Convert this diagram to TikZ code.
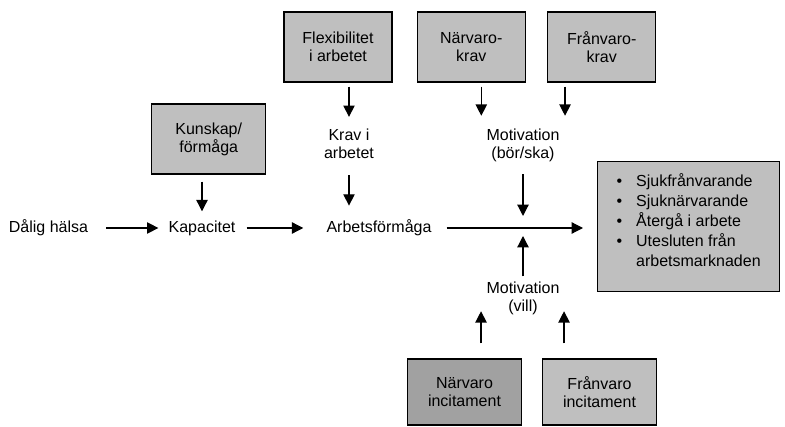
\documentclass[tikz,border=0pt]{standalone}
\usepackage{fontspec}
\setmainfont{Liberation Sans}
\usetikzlibrary{arrows.meta}

\begin{document}
\begin{tikzpicture}[x=0.75pt,y=-0.75pt,
                box/.style={draw,line width=0.9pt,fill=black!25,minimum width=81pt,minimum height=52.5pt,align=center,font=\fontsize{12}{13.5}\selectfont},
                dark box/.style={box,fill=black!37},
                word/.style={inner sep=0pt,align=center,font=\fontsize{12}{13.5}\selectfont},
                pil/.style={-{Triangle[length=8.5pt,width=8.5pt]},line width=0.9pt},
                ]
                \useasboundingbox (0,0) rectangle (785,427);
                \node[box] (flex) at (338,47) {Flexibilitet\\i arbetet};
                \node[box,minimum width=85.5pt] (kunskap) at (208.7,139) {Kunskap/\\förmåga};
                \node[box] (narkrav) at (471.3,47) {Närvaro-\\krav};
                \node[box] (frankrav) at (601.7,47) {Frånvaro-\\krav};
                \node[dark box,minimum width=85.5pt,minimum height=49.5pt] (narinc) at (464.5,392) {Närvaro\\incitament};
                \node[box,minimum width=85.5pt,minimum height=49.5pt] (franinc) at (599.5,392) {Frånvaro\\incitament};
                \node[box,anchor=north west,minimum width=136.5pt,minimum height=97.5pt,align=left,font=\fontsize{12}{15}\selectfont] (utfall) at (597,161)
                        {\begin{tabular}{@{}l@{\hspace{10.5pt}}l@{}}
                         \textbullet & Sjukfrånvarande\\
                         \textbullet & Sjuknärvarande\\
                         \textbullet & Återgå i arbete\\
                         \textbullet & Utesluten från\\
                                     & arbetsmarknaden\\[6.75pt]
                         \end{tabular}};
                
                \node[word] (dalig) at (48.5,228) {Dålig hälsa};
                \node[word] (kap) at (202,228) {Kapacitet};
                \node[word] (arbf) at (379,228) {Arbetsförmåga};
                \node[word] (krav) at (349,144) {Krav i\\arbetet};
                \node[word] (motska) at (523,145.5) {Motivation\\(bör/ska)};
                \node[word] (motvill) at (523,298.5) {Motivation\\(vill)};
                \coordinate (korsning) at (523,228);
                
                \draw[pil, shorten <=13.5pt, shorten >=7.5pt] (dalig) -- (kap);
                \draw[pil, shorten <=8.25pt, shorten >=17.25pt] (kap) -- (arbf);
                \draw[pil, shorten <=11.25pt, shorten >=10.5pt] (arbf) -- (arbf -| utfall.west);
                \draw[pil, shorten <=5.25pt, shorten >=6.75pt] (kap.north |- kunskap.south) -- (kap.north);
                \draw[pil, shorten <=3pt, shorten >=9pt] (krav.north |- flex.south) -- (krav.north);
                \draw[pil, shorten <=12pt, shorten >=10.5pt] (krav.south) -- (arbf.north -| krav.south);
                \draw[pil, shorten <=3pt, shorten >=9.75pt] ([xshift=7.5pt]narkrav.south) -- ([xshift=7.5pt]narkrav.south |- motska.north);
                \draw[pil, shorten <=3pt, shorten >=9.75pt] ([xshift=-27.5pt]frankrav.south) -- ([xshift=-27.5pt]frankrav.south |- motska.north);
                \draw[pil, shorten <=9pt, shorten >=9pt] (motska) -- (korsning);
                \draw[pil, shorten <=4pt, shorten >=6pt] (motvill) -- (korsning);
                \draw[pil, shorten <=11.25pt, shorten >=-3pt] ([xshift=12.4pt]narinc.north) -- ([xshift=12.4pt]narinc.north |- motvill.south);
                \draw[pil, shorten <=11.25pt, shorten >=-3pt] ([xshift=-26.6pt]franinc.north) -- ([xshift=-26.6pt]franinc.north |- motvill.south);
            \end{tikzpicture}
\end{document}
